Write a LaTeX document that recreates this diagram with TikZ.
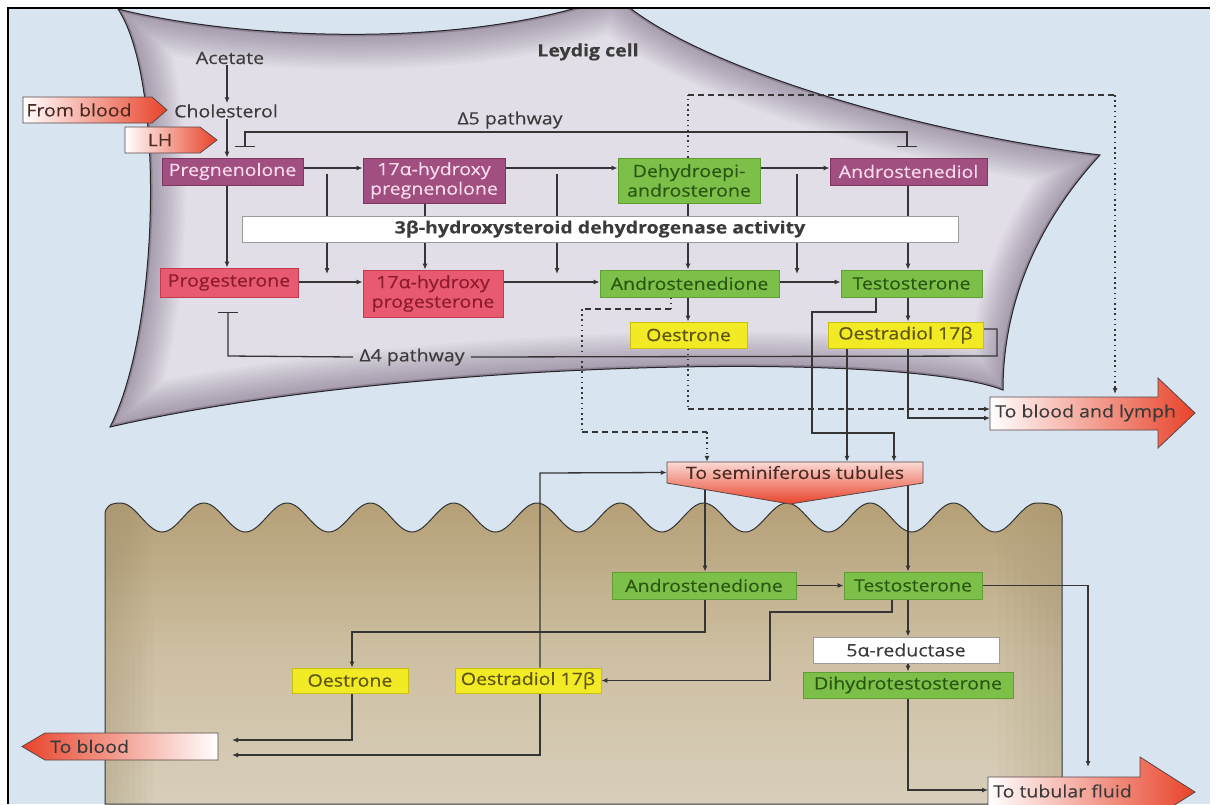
\documentclass[tikz,border=0pt]{standalone}
\usepackage{fontspec}
\setmainfont[FakeStretch=1.15,FakeBold=0.3]{Open Sans}
\usetikzlibrary{arrows.meta}
\definecolor{bgblue}{HTML}{D8E4F0}
\definecolor{pur}{HTML}{A14E81}
\definecolor{purD}{HTML}{7E355F}
\definecolor{purT}{HTML}{F6DCEB}
\definecolor{redf}{HTML}{E85A70}
\definecolor{redD}{HTML}{C23A50}
\definecolor{redT}{HTML}{8E1A2E}
\definecolor{grn}{HTML}{7CC04A}
\definecolor{grnD}{HTML}{5E9E34}
\definecolor{grnT}{HTML}{2A5612}
\definecolor{yel}{HTML}{F2EA25}
\definecolor{yelD}{HTML}{C9BE14}
\definecolor{yelT}{HTML}{5E5510}
\definecolor{wD}{HTML}{9B9B9B}
\definecolor{txtc}{HTML}{3B3B3B}
\definecolor{lnc}{HTML}{353535}
\definecolor{arrR}{HTML}{E8432A}
\definecolor{arrD}{HTML}{5A4646}
\definecolor{arrT}{HTML}{4A2A22}
\definecolor{cellin}{HTML}{E2DEE7}
\definecolor{cellD}{HTML}{4E3A58}
\definecolor{tanTop}{HTML}{B5A077}
\definecolor{tanMid}{HTML}{CDBFA2}
\definecolor{tanBot}{HTML}{D8CEBA}
\pgfdeclarelayer{bg}
\pgfdeclarelayer{lines}
\pgfsetlayers{bg,lines,main}
\newcommand\myfs{\fontsize{17}{19.5}\selectfont}
\def\leydigpath{(118,9) .. controls (250,42) and (480,48) .. (615,-5) .. controls (680,60) and (900,130) .. (1100,155) .. controls (1040,220) and (1003,300) .. (1003,390) .. controls (900,350) and (400,360) .. (110,427) .. controls (160,330) and (165,80) .. (118,9) -- cycle}
\def\tanpath{(105,804) -- (105,515) .. controls (105,506) and (111,503) .. (120.5,503) \foreach \k in {0,...,10}{ cos ({120.5+83.3*\k+20.825},517.5) sin ({120.5+83.3*\k+41.65},532) cos ({120.5+83.3*\k+62.475},517.5) sin ({120.5+83.3*(\k+1)},503) } .. controls (1052,503) and (1062,506) .. (1062,516) -- (1062,804) -- cycle}
\begin{document}
\begin{tikzpicture}[x=1pt,y=-1pt,
  txt/.style={inner sep=1pt, font=\myfs, text=txtc},
  bx/.style={rectangle, inner sep=0pt, align=center, font=\myfs, line width=0.8pt},
  pbox/.style={bx, fill=pur, draw=purD, text=purT},
  rbox/.style={bx, fill=redf, draw=redD, text=redT},
  gbox/.style={bx, fill=grn, draw=grnD, text=grnT},
  ybox/.style={bx, fill=yel, draw=yelD, text=yelT},
  wbox/.style={bx, fill=white, draw=wD, text=txtc},
  ln/.style={draw=lnc, line width=1.3pt},
  conn/.style={ln, -{Latex[length=6pt,width=5pt]}},
  dashh/.style={ln, dash pattern=on 6pt off 4pt},
  dott/.style={ln, line width=1.7pt, dash pattern=on 1.6pt off 3.6pt},
  tipend/.style={-{Latex[length=6pt,width=5pt]}},
  arrshape/.style={left color=white, right color=arrR, draw=arrD, line width=0.8pt},
]
\useasboundingbox (0,0) rectangle (1217,804);

% ---------- backgrounds ----------
\begin{pgfonlayer}{bg}
\fill[white] (0,0) rectangle (1217,804);
\fill[bgblue] (8,8) rectangle (1210,804);
\begin{scope}
  \clip (8,8) rectangle (1210,804);
  \fill[cellin] \leydigpath;
  \begin{scope}
    \clip \leydigpath;
    \foreach \w in {70,65,...,5}{\draw[cellD, line width=\w pt, opacity=0.03] \leydigpath;}
    \draw[cellD, line width=4pt, opacity=0.3] \leydigpath;
  \end{scope}
  \draw[black!85, line width=1pt] \leydigpath;
  \shade[top color=tanTop, bottom color=tanBot, middle color=tanMid] \tanpath;
  \begin{scope}
    \clip \tanpath;
    \foreach \w in {6,12,...,48}{\fill[tanTop!85!black, opacity=0.045] (105,500) rectangle (105+\w,804);}
    \foreach \w in {8,16,...,64}{\fill[tanTop!85!black, opacity=0.03] (1062-\w,500) rectangle (1062,804);}
  \end{scope}
  \draw[black!80, line width=1pt] \tanpath;
\end{scope}
\end{pgfonlayer}

% ---------- arrow shapes ----------
\path[arrshape] (23,97) -- (152,97) -- (167,110) -- (152,123) -- (23,123) -- cycle;
\path[arrshape] (125,127) -- (200,127) -- (217,140) -- (200,153) -- (125,153) -- cycle;
\path[arrshape] (990,397) -- (1158,397) -- (1158,378) -- (1195,413) -- (1158,448) -- (1158,430) -- (990,430) -- cycle;
\path[left color=arrR, right color=white, draw=arrD, line width=0.8pt] (218,733) -- (45,733) -- (22,746.5) -- (45,760) -- (218,760) -- cycle;
\begin{scope}
  \clip (8,8) rectangle (1210,804);
  \path[arrshape] (988,777) -- (1140,777) -- (1140,757) -- (1195,792) -- (1140,827) -- (1140,807) -- (988,807) -- cycle;
\end{scope}
\path[top color=arrR!20!white, bottom color=arrR, draw=arrD, line width=0.8pt] (667,462) -- (923,462) -- (923,483) -- (790,504) -- (667,483) -- cycle;

% ---------- text nodes ----------
\node[txt] (acetate) at (230,58) {Acetate};
\node[txt] (chol) at (226,111) {Cholesterol};
\node[txt, font=\myfs\bfseries] (leydig) at (588,52) {Leydig cell};
\node[txt] (d5) at (510,120) {Δ5 pathway};
\node[txt, inner sep=6pt] (d4) at (412,357) {Δ4 pathway};
\node[txt, text=arrT] (fromblood) at (79,110) {From blood};
\node[txt, text=arrT] (lh) at (160,140) {LH};
\node[txt, anchor=west, inner sep=5pt] (lymph) at (990,413) {To blood and lymph};
\node[txt, anchor=west, inner sep=5pt] (toblood) at (45,746.5) {To blood};
\node[txt, anchor=west, inner sep=5pt] (tubular) at (988,791) {To tubular fluid};
\node[txt, text=arrT, minimum width=256, minimum height=21, inner sep=0pt] (semi) at (795,472.5) {To seminiferous tubules};

% ---------- boxes: Leydig cell ----------
\node[pbox, minimum width=141, minimum height=27] (preg) at (232.5,171.5) {Pregnenolone};
\node[pbox, minimum width=142, minimum height=45] (ohpreg) at (434,180.5) {17α-hydroxy\\pregnenolone};
\node[gbox, minimum width=142, minimum height=45] (dhea) at (689,180.5) {Dehydroepi-\\androsterone};
\node[pbox, minimum width=157, minimum height=27] (adiol) at (908.5,171.5) {Androstenediol};
\node[wbox, minimum width=716, minimum height=26, font=\myfs\bfseries] (hsd) at (600,229) {3β-hydroxysteroid dehydrogenase activity};
\node[rbox, minimum width=138, minimum height=29] (prog) at (229,282.5) {Progesterone};
\node[rbox, minimum width=140, minimum height=47] (ohprog) at (433,293.5) {17α-hydroxy\\progesterone};
\node[gbox, minimum width=179, minimum height=27] (andro) at (689.5,283.5) {Androstenedione};
\node[gbox, minimum width=141, minimum height=27] (testo) at (911.5,283.5) {Testosterone};
\node[ybox, minimum width=117, minimum height=26] (oestrone) at (688.5,335) {Oestrone};
\node[ybox, minimum width=155, minimum height=26] (oestradiol) at (905.5,335) {Oestradiol 17β};

% ---------- boxes: tubule cell ----------
\node[gbox, minimum width=184, minimum height=27] (andro2) at (704,585.5) {Androstenedione};
\node[gbox, minimum width=138, minimum height=27] (testo2) at (913,585.5) {Testosterone};
\node[wbox, minimum width=186, minimum height=26] (reduct) at (906,650) {5α-reductase};
\node[gbox, minimum width=210, minimum height=26] (dht) at (908,685) {Dihydrotestosterone};
\node[ybox, minimum width=116, minimum height=25] (oestrone2) at (350,680.5) {Oestrone};
\node[ybox, minimum width=146, minimum height=25] (oestradiol2) at (528,680.5) {Oestradiol 17β};

% ---------- helper coordinates ----------
\coordinate (r1) at (0,168);
\coordinate (r2) at (0,282);
\coordinate (x227) at (227,0);
\coordinate (x425) at (425,0);
\coordinate (x688) at (688,0);
\coordinate (x908) at (908,0);
\coordinate (x876) at (876,0);
\coordinate (x847) at (847,0);
\coordinate (x894) at (894,0);
\coordinate (x671) at (671,0);
\coordinate (x707) at (707,0);
\coordinate (x705) at (705,0);
\coordinate (x892) at (892,0);
\coordinate (x352) at (352,0);
\coordinate (x540) at (540,0);
\coordinate (y409) at (0,409);
\coordinate (y418) at (0,418);
\coordinate (y790) at (0,790);
\coordinate (b1a) at (327,174); \coordinate (b1b) at (327,274);
\coordinate (b2a) at (557,174); \coordinate (b2b) at (557,274);
\coordinate (b3a) at (797,174); \coordinate (b3b) at (797,274);
\coordinate (d5l) at (245,147); \coordinate (d5r) at (907,147);
\coordinate (d4t) at (228,312);
\coordinate (tbA) at (232,740); \coordinate (tbB) at (232,755);
\coordinate (tfin) at (1088,767);
\coordinate (lymtop) at (1115,394);

% ---------- connectors ----------
\begin{pgfonlayer}{lines}
\draw[conn] (acetate.south -| x227) -- (chol.north -| x227);
\draw[conn] (chol.south -| x227) -- (preg.north -| x227);
\draw[ln, {Bar[width=20pt]}-{Bar[width=20pt]}] (d5l) -- (245,132) -- (907,132) -- (d5r);
\draw[conn] (preg.east |- r1) -- (ohpreg.west |- r1);
\draw[conn] (ohpreg.east |- r1) -- (dhea.west |- r1);
\draw[conn] (dhea.east |- r1) -- (adiol.west |- r1);
\draw[conn] (prog.east |- r2) -- (ohprog.west |- r2);
\draw[conn] (ohprog.east |- r2) -- (andro.west |- r2);
\draw[conn] (andro.east |- r2) -- (testo.west |- r2);
\draw[conn] (preg.south -| x227) -- (prog.north -| x227);
\draw[conn] (b1a) -- (b1b);
\draw[conn] (b2a) -- (b2b);
\draw[conn] (b3a) -- (b3b);
\draw[conn] (ohpreg.south -| x425) -- (ohprog.north -| x425);
\draw[conn] (dhea.south -| x688) -- (andro.north -| x688);
\draw[conn] (adiol.south -| x908) -- (testo.north -| x908);
\draw[conn] (andro.south -| x688) -- (oestrone.north -| x688);
\draw[conn] (testo.south -| x908) -- (oestradiol.north -| x908);
% delta 4 pathway
\draw[ln] (oestradiol.east |- 0,329) -- (997,329) -- (997,356) -- (d4.east);
\draw[ln, -{Bar[width=20pt]}] (d4.west) -- (228,356) -- (d4t);
% leaving the Leydig cell
\draw[conn] (testo.south -| x876) -- (876,312) -- (812,312) -- (812,433) -- (894,433) -- (semi.north -| x894);
\draw[conn] (oestradiol.south -| x847) -- (semi.north -| x847);
\draw[conn] (oestradiol.south -| x908) -- (908,418) -- (lymph.west |- y418);
\draw[dott] (oestrone.south -| x688) -- (688,409);
\draw[dashh, tipend] (688,409) -- (lymph.west |- y409);
\draw[dott] (dhea.north -| x688) -- (688,95);
\draw[dashh] (688,95) -- (1115,95);
\draw[dott, tipend] (1115,95) -- (lymtop);
\draw[dott] (andro.south -| x671) -- (671,309);
\draw[dashh] (671,309) -- (582,309);
\draw[dott] (582,309) -- (582,432);
\draw[dashh] (582,432) -- (707,432);
\draw[dott, tipend] (707,432) -- (semi.north -| x707);
% tubule cell
\draw[conn] (semi.south -| x705) -- (andro2.north -| x705);
\draw[conn] (semi.south -| x908) -- (testo2.north -| x908);
\draw[conn] (andro2.east) -- (testo2.west);
\draw[conn] (andro2.south -| x705) -- (705,632) -- (352,632) -- (oestrone2.north -| x352);
\draw[conn] (testo2.south -| x892) -- (892,612) -- (770,612) -- (770,680.5) -- (oestradiol2.east);
\draw[conn] (testo2.south -| x908) -- (reduct.north -| x908);
\draw[conn] (reduct.south -| x908) -- (dht.north -| x908);
\draw[conn] (dht.south -| x908) -- (908,790) -- (tubular.west |- y790);
\draw[conn] (testo2.east) -- (1088,585.5) -- (tfin);
\draw[conn] (oestrone2.south -| x352) -- (352,740) -- (tbA);
\draw[conn] (oestradiol2.south -| x540) -- (540,755) -- (tbB);
\draw[conn] (oestradiol2.north -| x540) -- (540,473) -- (semi.west);
\end{pgfonlayer}

% frame
\draw[black, line width=1.5pt] (8,804) -- (8,8) -- (1210,8);
\end{tikzpicture}
\end{document}
